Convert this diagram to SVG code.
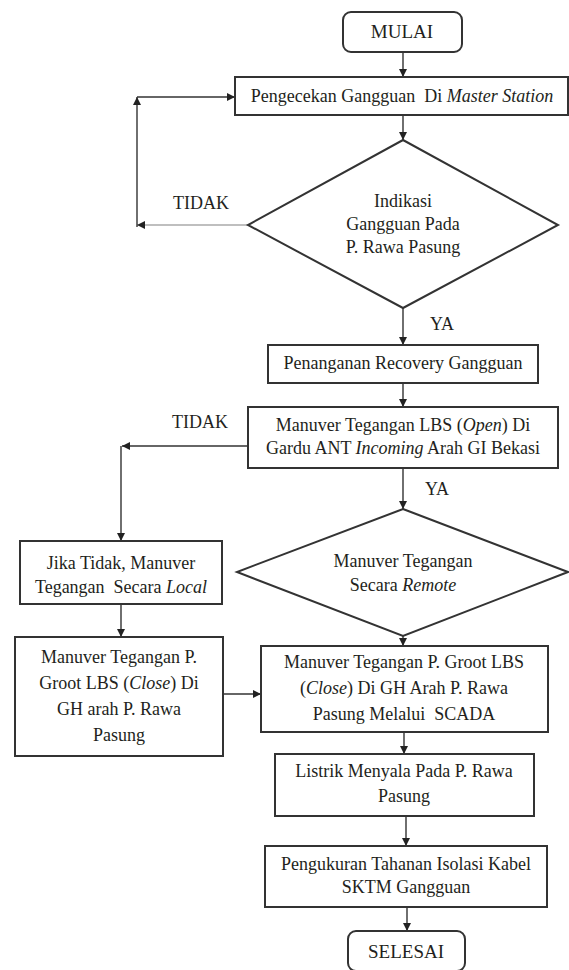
<svg xmlns="http://www.w3.org/2000/svg" width="569" height="970" viewBox="0 0 569 970">
<defs>
<marker id="ah" viewBox="0 0 8 8" refX="8" refY="4" markerWidth="8" markerHeight="8" markerUnits="userSpaceOnUse" orient="auto"><path d="M0,0 L8,4 L0,8 z" fill="#222"/></marker>
<style>
.box{fill:#fff;stroke:#333;stroke-width:2}
.t{font-family:"Liberation Serif","Times New Roman",serif;font-size:18px;fill:#231f20;text-anchor:middle}
.l{font-family:"Liberation Serif","Times New Roman",serif;font-size:18px;fill:#231f20}
.c{fill:none;stroke:#333;stroke-width:1.4;marker-end:url(#ah)}
.g{stroke:#aaa}
</style>
</defs>
<rect width="569" height="970" fill="#fff"/>
<g id="connectors">
<path class="c" d="M403,52 V77"/>
<path class="c" d="M403,115 V140"/>
<path class="c g" d="M248,225 H137"/>
<path class="c" d="M137,227 V97"/>
<path class="c" d="M137,97 H235"/>
<path class="c" d="M403,308 V345"/>
<path class="c" d="M403,383 V407"/>
<path class="c" d="M248,446 H122"/>
<path class="c" d="M121,446 V541"/>
<path class="c" d="M403,468 V509"/>
<path class="c" d="M121,604 V637"/>
<path class="c" d="M223,694 H261"/>
<path class="c" d="M403,636 V646"/>
<path class="c" d="M404,732 V754"/>
<path class="c" d="M406,816 V846"/>
<path class="c" d="M407,907 V931"/>
<text class="l" x="173" y="209">TIDAK</text>
<text class="l" x="430" y="330">YA</text>
<text class="l" x="172" y="428">TIDAK</text>
<text class="l" x="425" y="495">YA</text>
</g>
<g id="mulai">
<rect class="box" x="343" y="12" width="119" height="40" rx="8"/>
<text class="t" x="402" y="38" style="font-size:19px">MULAI</text>
</g>
<g id="pengecekan">
<rect class="box" x="235" y="77" width="333" height="38"/>
<text class="t" x="402" y="102" xml:space="preserve">Pengecekan Gangguan  Di <tspan font-style="italic">Master Station</tspan></text>
</g>
<g id="indikasi">
<polygon class="box" points="403,140 558,225 403,308 248,225"/>
<text class="t" x="403" y="207">Indikasi</text>
<text class="t" x="403" y="230">Gangguan Pada</text>
<text class="t" x="403" y="253">P. Rawa Pasung</text>
</g>
<g id="penanganan">
<rect class="box" x="268" y="345" width="270" height="38"/>
<text class="t" x="403" y="369">Penanganan Recovery Gangguan</text>
</g>
<g id="manuver-lbs">
<rect class="box" x="248" y="407" width="310" height="61"/>
<text class="t" x="403" y="431">Manuver Tegangan LBS (<tspan font-style="italic">Open</tspan>) Di</text>
<text class="t" x="403" y="454">Gardu ANT <tspan font-style="italic">Incoming</tspan> Arah GI Bekasi</text>
</g>
<g id="jika-tidak">
<rect class="box" x="20" y="541" width="202" height="63"/>
<text class="t" x="121" y="569">Jika Tidak, Manuver</text>
<text class="t" x="121" y="593" xml:space="preserve">Tegangan  Secara <tspan font-style="italic">Local</tspan></text>
</g>
<g id="remote">
<polygon class="box" points="403,509 568,572 403,636 237,572"/>
<text class="t" x="403" y="567">Manuver Tegangan</text>
<text class="t" x="403" y="591">Secara <tspan font-style="italic">Remote</tspan></text>
</g>
<g id="manuver-local">
<rect class="box" x="15" y="637" width="208" height="119"/>
<text class="t" x="119" y="663">Manuver Tegangan P.</text>
<text class="t" x="119" y="689">Groot LBS (<tspan font-style="italic">Close</tspan>) Di</text>
<text class="t" x="119" y="715">GH arah P. Rawa</text>
<text class="t" x="119" y="741">Pasung</text>
</g>
<g id="manuver-scada">
<rect class="box" x="261" y="646" width="287" height="86"/>
<text class="t" x="404" y="668">Manuver Tegangan P. Groot LBS</text>
<text class="t" x="404" y="694">(<tspan font-style="italic">Close</tspan>) Di GH Arah P. Rawa</text>
<text class="t" x="404" y="720" xml:space="preserve">Pasung Melalui  SCADA</text>
</g>
<g id="listrik">
<rect class="box" x="275" y="754" width="259" height="62"/>
<text class="t" x="404" y="777">Listrik Menyala Pada P. Rawa</text>
<text class="t" x="404" y="802">Pasung</text>
</g>
<g id="pengukuran">
<rect class="box" x="265" y="846" width="282" height="61"/>
<text class="t" x="406" y="870">Pengukuran Tahanan Isolasi Kabel</text>
<text class="t" x="406" y="893">SKTM Gangguan</text>
</g>
<g id="selesai">
<rect class="box" x="348" y="931" width="117" height="40" rx="8"/>
<text class="t" x="406" y="958" style="font-size:19px">SELESAI</text>
</g>
</svg>
